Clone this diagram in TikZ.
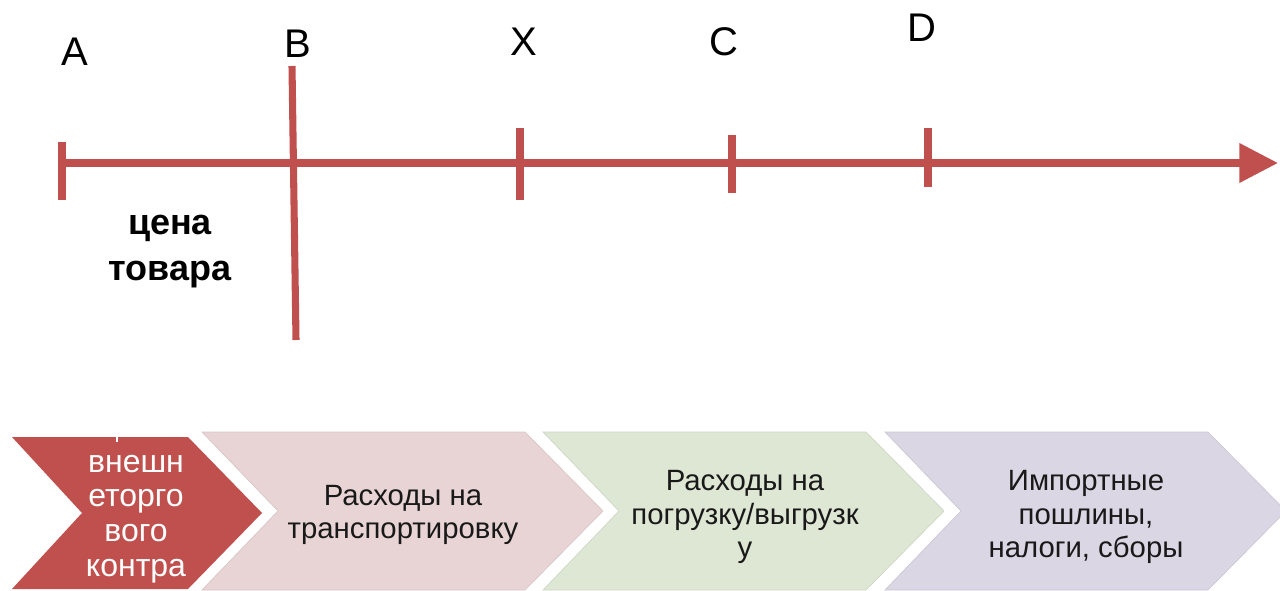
\documentclass[tikz,border=0pt]{standalone}
\usepackage{fontspec}
\setmainfont{Liberation Sans}
\usetikzlibrary{calc, arrows.meta}

\definecolor{axisred}{RGB}{192,80,77}
\definecolor{chevpink}{RGB}{232,212,212}
\definecolor{chevgreen}{RGB}{222,230,212}
\definecolor{chevviolet}{RGB}{219,214,227}

\begin{document}
\begin{tikzpicture}[x=0.75pt,y=-0.75pt,
        axisline/.style={axisred, line width=5.3pt},
        letter/.style={font=\fontsize{30}{32}\selectfont},
        stage/.style={align=center, text=black!90, font=\fontsize{22}{25}\selectfont}]
    \useasboundingbox (0,0) rectangle (1280,591);

    % price axis
    \coordinate (start) at (62,163);
    \coordinate (end) at (1278,163);
    \draw[axisline, -{Triangle[length=29pt,width=28.5pt]}] (start) -- (end);
    \foreach \name/\x/\ya/\yb in {A/62/142/200, X/520/128/200, C/732/135/193, D/928/128/187}
        \draw[axisline] (\x,\ya) coordinate (top\name) -- (\x,\yb) coordinate (bot\name);
    \draw[axisline] (292,66) coordinate (topB) -- (296,340) coordinate (botB);

    \node[letter] (lblA) at (75,52) {A};
    \node[letter] (lblB) at (298,44) {B};
    \node[letter] (lblX) at (524,42) {X};
    \node[letter] (lblC) at (724,42) {C};
    \node[letter] (lblD) at (922,28) {D};
    \node[align=center, font=\fontsize{27}{34.5}\selectfont\bfseries] (price) at (170,252) {цена\\товара};

    % chevrons of the cost chain
    \foreach \l/\col in {202/chevpink, 543/chevgreen, 885/chevviolet}
        \filldraw[fill=\col, draw=\col!93!black, line width=0.5pt]
            (\l,432) -- ++(323,0) -- ++(78,79) -- ++(-78,79) -- ++(-323,0) -- ++(76,-79) -- cycle;
    \fill[axisred] (12,437) -- (188,437) -- (262,513) -- (188,589) -- (12,589) -- (82,513) -- cycle;
    \draw[white, line width=1.2pt] (117,437) -- (117,442);

    \node[align=center, text=white, font=\fontsize{24}{26}\selectfont] (contract) at (136,519)
        {внешн\\еторго\\вого\\контра};
    \node[stage] (transport) at (403,515) {Расходы на\\транспортировку};
    \node[stage] (loading) at (745,517) {Расходы на\\погрузку/выгрузк\\у};
    \node[stage] (duties) at (1086,517) {Импортные\\пошлины,\\налоги, сборы};
\end{tikzpicture}
\end{document}
